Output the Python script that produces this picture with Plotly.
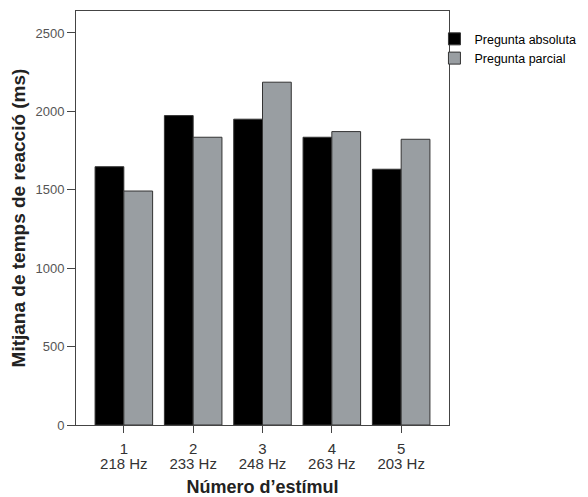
import plotly.graph_objects as go

numbers = ["1", "2", "3", "4", "5"]
freqs = ["218 Hz", "233 Hz", "248 Hz", "263 Hz", "203 Hz"]
absoluta = [1647, 1973, 1950, 1835, 1631]
parcial = [1492, 1835, 2186, 1871, 1822]
series_names = ["Pregunta absoluta", "Pregunta parcial"]
y_ticks = [0, 500, 1000, 1500, 2000, 2500]

FONT = "Arial, Liberation Sans, sans-serif"
pos = list(range(len(numbers)))

fig = go.Figure()
fig.add_trace(go.Bar(x=pos, y=absoluta, name=series_names[0],
                     marker=dict(color="#000000", line=dict(color="#333333", width=1))))
fig.add_trace(go.Bar(x=pos, y=parcial, name=series_names[1],
                     marker=dict(color="#999ea2", line=dict(color="#333333", width=1))))
# helper (invisible) trace so the second label row axis is drawn
fig.add_trace(go.Scatter(x=pos, y=[0] * len(pos), xaxis="x2", mode="markers",
                         marker=dict(opacity=0), showlegend=False, hoverinfo="skip"))

# page has an 8px body margin: shrink figure and left/top margins to compensate
fig.update_layout(
    width=580, height=489,
    margin=dict(l=68, r=139, t=3, b=72, autoexpand=False),
    barmode="group", bargap=0.17, bargroupgap=0,
    paper_bgcolor="white", plot_bgcolor="white",
    font=dict(family=FONT, color="#333333", size=12),
    legend=dict(x=0.961, y=0.968, xanchor="left", yanchor="top",
                font=dict(size=12.5, color="#000000", family=FONT), tracegroupgap=0,
                bgcolor="rgba(0,0,0,0)", itemwidth=30),
    showlegend=True,
)
fig.update_layout(
    xaxis=dict(
        showline=True, linecolor="#444444", linewidth=1, mirror=True,
        ticks="outside", ticklen=7, tickcolor="#444444",
        tickvals=pos, ticktext=numbers, ticklabelstandoff=3,
        tickfont=dict(size=15, color="#333333", family=FONT),
        range=[-0.69, 4.69], showgrid=False, zeroline=False,
    ),
    xaxis2=dict(
        overlaying="x", matches="x", anchor="y", side="bottom",
        showline=False, ticks="", tickvals=pos, ticktext=freqs,
        tickfont=dict(size=15, color="#333333", family=FONT),
        ticklabelstandoff=28, showgrid=False, zeroline=False,
        range=[-0.69, 4.69],
        title=dict(text="<b>Número d’estímul</b>", font=dict(size=18, color="#222222", family=FONT), standoff=10),
    ),
    yaxis=dict(
        showline=True, linecolor="#444444", linewidth=1, mirror=True,
        ticks="outside", ticklen=8, tickcolor="#444444",
        tickfont=dict(size=13, color="#555555", family=FONT),
        tickvals=y_ticks,
        showgrid=False, zeroline=False,
        range=[0, 2640],
        title=dict(text="<b>Mitjana de temps de reacció (ms)</b>", font=dict(size=19, color="#222222", family=FONT), standoff=6),
    ),
)

fig.write_html("out.html")
